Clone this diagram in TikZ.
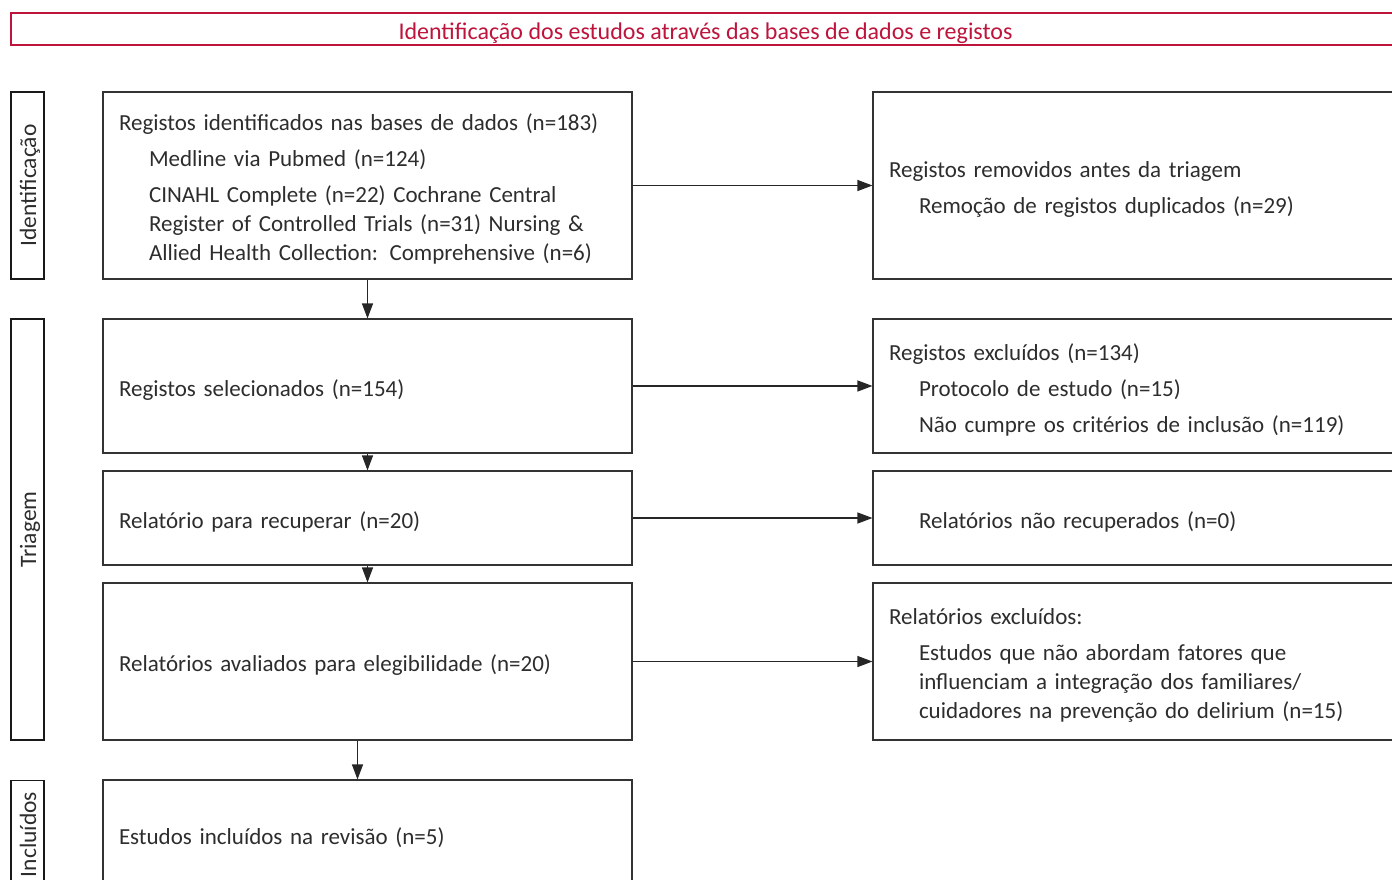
\documentclass[tikz,border=0pt]{standalone}
\usepackage{fontspec}
\setmainfont{Carlito}
\usetikzlibrary{arrows.meta}

\definecolor{prismared}{RGB}{190,20,60}
\definecolor{inkgray}{RGB}{45,45,45}

\tikzset{
  box/.style={draw=black!80, line width=1.1pt, text=inkgray, align=left,
    inner xsep=16pt, inner ysep=0pt, font=\fontsize{23}{29}\selectfont,
    execute at begin node={\rule{0pt}{24pt}}},
  leftbox/.style={box, minimum width=529pt, text width=497pt},
  rightbox/.style={box, minimum width=540pt, text width=508pt},
  phase/.style={draw=black!90, line width=1.8pt, rotate=90, minimum height=33pt,
    inner sep=0pt, text=inkgray, font=\fontsize{23.5}{26}\selectfont,
    text height=17pt, text depth=6pt},
  arr/.style={draw=black!85, line width=1.1pt, -{Triangle[length=15pt,width=11pt]}},
}
\newcommand{\ind}{\hspace*{30pt}}

\begin{document}
\begin{tikzpicture}[x=1pt,y=-1pt]
\clip (0,0) rectangle (1392,879);

% Banner
\node[draw=prismared, line width=1.8pt, text=prismared, minimum width=1389pt,
  minimum height=32pt, inner sep=0pt, font=\fontsize{24}{26}\selectfont,
  text height=17pt, text depth=6pt]
  (banner) at (705.5,29) {\raisebox{-4.5pt}{Identificação dos estudos através das bases de dados e registos}};

% Phase labels
\node[phase, minimum width=187pt] (ident) at (27.5,185.5) {\raisebox{-3pt}{Identificação}};
\node[phase, minimum width=421pt] (triag) at (27.5,529.5) {\raisebox{-3pt}{Triagem}};
\node[phase, minimum width=108pt] (inclu) at (27.5,834.5) {\raisebox{-3pt}{Incluídos}};

% Left column
\node[leftbox, minimum height=187pt] (regid) at (367.5,185.5)
  {Registos identificados nas bases de dados (n=183)\\[7pt]
   \ind Medline via Pubmed (n=124)\\[7pt]
   \ind CINAHL Complete (n=22) Cochrane Central\\
   \ind Register of Controlled Trials (n=31) Nursing \&\\
   \ind Allied Health Collection: Comprehensive (n=6)};
\node[leftbox, minimum height=134pt] (regsel) at (367.5,386)
  {Registos selecionados (n=154)};
\node[leftbox, minimum height=94pt] (relrec) at (367.5,518)
  {Relatório para recuperar (n=20)};
\node[leftbox, minimum height=157pt] (relav) at (367.5,661.5)
  {Relatórios avaliados para elegibilidade (n=20)};
\node[leftbox, minimum height=108pt] (estinc) at (367.5,834)
  {Estudos incluídos na revisão (n=5)};

% Right column
\node[rightbox, minimum height=187pt] (remov) at (1143,185.5)
  {Registos removidos antes da triagem\\[7pt]
   \ind Remoção de registos duplicados (n=29)};
\node[rightbox, minimum height=134pt] (regexc) at (1143,386)
  {Registos excluídos (n=134)\\[7pt]
   \ind Protocolo de estudo (n=15)\\[7pt]
   \ind Não cumpre os critérios de inclusão (n=119)};
\node[rightbox, minimum height=94pt] (naorec) at (1143,518)
  {\ind Relatórios não recuperados (n=0)};
\node[rightbox, minimum height=157pt] (relexc) at (1143,661.5)
  {Relatórios excluídos:\\[7pt]
   \ind Estudos que não abordam fatores que\\
   \ind influenciam a integração dos familiares/\\
   \ind cuidadores na prevenção do delirium (n=15)};

% Connectors
\draw[arr] (regid) -- (regsel);
\draw[arr] (regsel) -- (relrec);
\draw[arr] (relrec) -- (relav);
\draw[arr] ([xshift=-10pt]relav.south) -- ([xshift=-10pt]estinc.north);
\draw[arr] (regid) -- (remov);
\draw[arr] (regsel) -- (regexc);
\draw[arr] (relrec) -- (naorec);
\draw[arr] (relav) -- (relexc);

\end{tikzpicture}
\end{document}
